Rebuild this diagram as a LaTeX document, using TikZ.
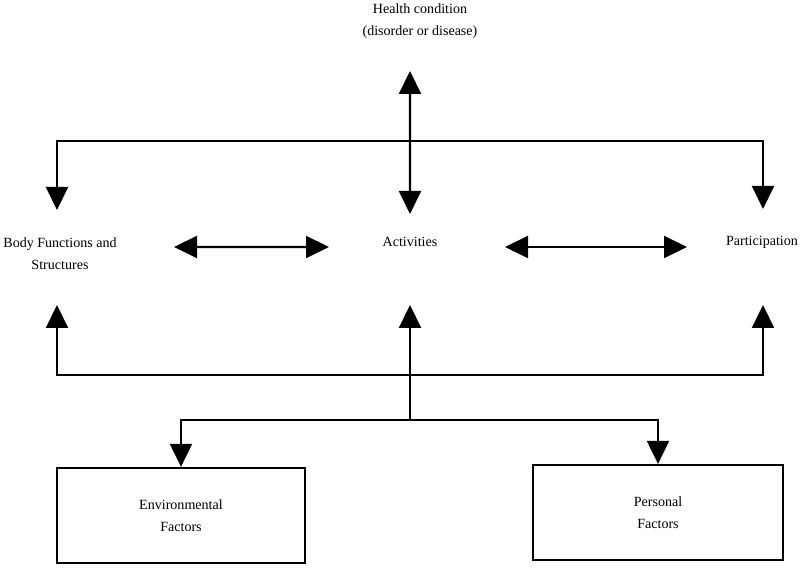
\documentclass[tikz,border=0pt]{standalone}
\usepackage{fontspec}
\setmainfont{Liberation Serif}
\usepackage{tikz}
\usetikzlibrary{arrows.meta,positioning}
\tikzset{%
  lbl/.style={align=center,inner sep=0pt},
  factor/.style={draw,line width=1.6pt,align=center,minimum width=62mm,minimum height=23.75mm,inner sep=0pt},
  link/.style={line width=1.5pt},
  arrow/.style={link,-{Triangle[length=5.75mm,width=5.5mm]}},
  twoway/.style={link,{Triangle[length=5.75mm,width=5.5mm]}-{Triangle[length=5.75mm,width=5.5mm]}}%
}

\begin{document}
\begin{tikzpicture}[
    x=0.25mm, y=0.25mm,
    font=\fontsize{10}{15.5}\selectfont
]
\useasboundingbox (0,0) rectangle (800,581);

% Components in the middle row
\node[lbl] (health) at (420,560)
{Health condition\\(disorder or disease)};

\node[lbl] (body) at (60,327)
{Body Functions and\\Structures};

\node[lbl] (act) at (410,339)
{Activities};

\node[lbl] (part) at (762,339)
{Participation};

% Contextual factors
\node[factor] (env) at (181,65.5)
{Environmental\\Factors};

\node[factor, minimum width=62.5mm] (pers) at (658,68.5)
{Personal\\Factors};

\coordinate (topbar) at (410,440);
\coordinate (botbar) at (410,206);
\coordinate (split) at (410,161);

\draw[twoway] ([xshift=-2.5mm,yshift=-12.5mm]health.center) -- ([yshift=7mm]act.center);
\draw[twoway] ([xshift=-0.75mm,yshift=11mm]body.center) |- (topbar) -| ([xshift=0.25mm,yshift=8.25mm]part.center);

\draw[twoway] ([xshift=28.5mm,yshift=1.75mm]body.center) -- ([xshift=-20.25mm,yshift=-1.25mm]act.center);
\draw[twoway] ([xshift=23.75mm,yshift=-1.25mm]act.center) -- ([xshift=-18.75mm,yshift=-1.25mm]part.center);

\draw[arrow] (botbar) -| ([xshift=-0.75mm,yshift=-12.75mm]body.center);
\draw[arrow] (botbar) -| ([xshift=0.25mm,yshift=-15.75mm]part.center);
\draw[arrow] (split) -- ([yshift=-15.75mm]act.center);

\draw[arrow] (split) -| (env.north);
\draw[arrow] (split) -| (pers.north);

\end{tikzpicture}
\end{document}
